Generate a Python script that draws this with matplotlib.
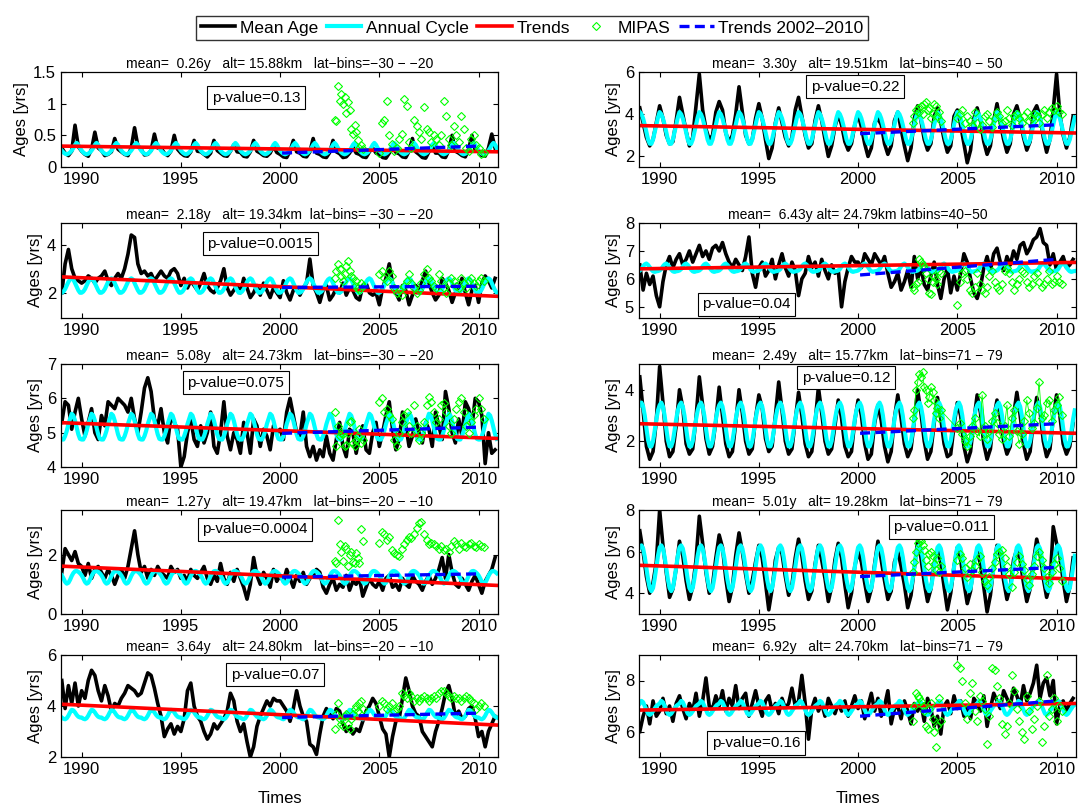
import numpy as np
import matplotlib
matplotlib.use("Agg")
import matplotlib.pyplot as plt
from matplotlib.lines import Line2D

plt.rcParams['font.family'] = ['Liberation Sans', 'DejaVu Sans']

# time axes: monthly (annual cycle), two-monthly (mean age), MIPAS dates
t_month = 1989 + np.arange(264) / 12.0
t_bimon = 1989 + np.arange(132) / 6.0
trend_t = [1989.0, 2011.0]
tr02_t = [2000.1, 2010.0]
mipas_t = [2002.75, 2002.83, 2002.92, 2003.0, 2003.08, 2003.17, 2003.25, 2003.33, 2003.42,
           2003.5, 2003.58, 2003.67, 2003.75, 2003.83, 2003.92, 2004.0, 2004.08, 2004.17,
           2005.0, 2005.12, 2005.25, 2005.38, 2005.5, 2005.62, 2005.75, 2005.88,
           2006.0, 2006.12, 2006.25, 2006.38, 2006.5, 2006.62, 2006.75, 2006.88,
           2007.0, 2007.12, 2007.25, 2007.38, 2007.5, 2007.62, 2007.75, 2007.88,
           2008.0, 2008.12, 2008.25, 2008.38, 2008.5, 2008.62, 2008.75, 2008.88,
           2009.0, 2009.12, 2009.25, 2009.38, 2009.5, 2009.62, 2009.75, 2009.88,
           2010.0, 2010.12, 2010.25]

# ---- left column: -30..-20 / -20..-10 ----
age_L1 = [.30, .22, .18, .25, .66, .32,  .25, .20, .17, .28, .55, .30,
          .26, .18, .20, .24, .45, .28,  .24, .20, .18, .30, .62, .33,
          .28, .19, .20, .26, .52, .30,  .30, .22, .18, .25, .50, .28,
          .22, .18, .17, .24, .42, .25,  .24, .20, .16, .22, .42, .26,
          .22, .18, .17, .25, .35, .24,  .23, .17, .16, .24, .42, .25,
          .22, .18, .17, .22, .33, .23,  .20, .16, .15, .25, .42, .24,
          .22, .17, .16, .24, .45, .22,  .20, .16, .15, .23, .42, .24,
          .21, .15, .16, .22, .32, .22,  .20, .16, .15, .24, .30, .22,
          .20, .15, .14, .22, .32, .23,  .21, .16, .15, .25, .45, .24,
          .20, .15, .14, .24, .35, .22,  .22, .16, .15, .26, .50, .25,
          .22, .18, .16, .28, .50, .26,  .24, .18, .17, .30, .52, .30]
cyc_L1 = [0.26, 0.23, 0.21, 0.20, 0.21, 0.23, 0.26, 0.30, 0.35, 0.38, 0.35, 0.30]
mip_L1 = [0.75, 0.72, 1.28, 1.05, 1.16, 1.0, 1.1, 0.85, 1.02, 0.9, 0.6, 0.52, 0.66, 0.55, 0.42, 0.3, 0.35, 0.28,
          0.22, 0.7, 0.75, 1.05, 0.5, 0.36, 0.25, 0.3,
          0.45, 0.52, 1.07, 0.97, 0.4, 0.3, 0.75, 0.65,
          0.55, 0.45, 0.95, 0.6, 0.55, 0.4, 0.5, 0.45,
          0.35, 0.5, 1.05, 0.8, 0.45, 0.35, 0.65, 0.5,
          0.4, 0.8, 0.6, 0.3, 0.25, 0.45, 0.5, 0.35,
          0.3, 0.2, 0.22]
trend_L1 = [0.33, 0.24]
tr02_L1 = [0.22, 0.33]

age_L2 = [2.0, 3.2, 3.8, 3.0, 2.6, 2.5,  2.4, 2.5, 2.7, 2.6, 2.4, 2.6,
          2.7, 2.9, 2.5, 2.3, 2.6, 2.8,  2.6, 3.0, 3.6, 4.4, 4.3, 3.2,
          2.8, 2.9, 2.7, 2.8, 2.5, 2.7,  2.9, 2.7, 2.6, 2.9, 3.0, 2.8,
          2.3, 2.6, 2.2, 2.5, 2.3, 2.1,  2.4, 2.8, 2.3, 2.1, 2.0, 2.2,
          2.5, 3.0, 2.2, 1.9, 2.1, 2.3,  2.0, 2.6, 2.2, 1.8, 2.0, 2.3,
          1.9, 2.4, 2.1, 1.8, 2.2, 2.0,  1.8, 2.5, 2.0, 1.7, 2.1, 2.2,
          1.9, 2.2, 2.4, 3.4, 2.3, 2.0,  1.6, 2.1, 2.3, 1.7, 1.9, 2.2,
          2.0, 2.4, 1.9, 2.2, 2.1, 1.8,  1.7, 2.3, 2.4, 2.0, 1.9, 2.0,
          1.5, 2.2, 2.6, 3.2, 2.4, 2.0,  1.7, 2.3, 2.1, 1.5, 1.9, 2.3,
          2.1, 2.5, 2.9, 2.4, 2.0, 1.7,  1.9, 2.6, 2.4, 2.1, 1.6, 2.0,
          2.2, 2.6, 2.0, 1.5, 2.1, 2.3,  1.6, 2.4, 2.7, 2.5, 2.2, 2.6]
cyc_L2 = [2.0, 2.05, 2.15, 2.3, 2.45, 2.55, 2.6, 2.55, 2.4, 2.25, 2.1, 2.0]
mip_L2 = [2.6, 2.9, 3.2, 3.0, 2.7, 2.5, 2.8, 3.1, 3.3, 2.9, 2.7, 2.6, 2.3, 2.5, 2.2, 2.1, 2.4, 2.3,
          2.8, 2.9, 2.6, 2.5, 2.9, 2.7, 2.2, 2.0,
          2.1, 1.9, 2.3, 2.5, 2.8, 2.4, 2.2, 2.0,
          2.1, 2.4, 2.8, 3.0, 2.6, 2.5, 2.3, 2.2,
          2.8, 2.5, 2.2, 2.0, 2.4, 2.6, 2.5, 2.3,
          2.2, 2.6, 2.4, 2.2, 2.5, 2.6, 2.4, 2.3,
          2.5, 2.6, 2.5]
trend_L2 = [2.66, 1.85]
tr02_L2 = [2.22, 2.27]

age_L3 = [5.3, 5.9, 5.8, 5.1, 5.6, 6.0,  5.4, 4.9, 5.3, 5.7, 5.0, 4.8,
          5.5, 5.2, 5.9, 5.8, 5.7, 6.0,  5.9, 5.8, 5.6, 6.0, 5.4, 5.0,
          5.6, 6.3, 6.6, 6.2, 5.4, 5.2,  5.7, 5.0, 4.7, 5.5, 5.3, 5.1,
          4.0, 4.3, 5.0, 5.4, 4.8, 4.6,  5.2, 4.7, 5.0, 5.6, 4.6, 4.4,
          5.0, 5.9, 4.9, 4.5, 5.0, 4.8,  4.4, 5.3, 5.0, 4.4, 5.4, 5.2,
          4.6, 5.1, 4.9, 4.5, 5.2, 5.0,  5.1, 4.8, 5.6, 6.0, 5.5, 5.0,
          4.9, 5.6, 4.6, 4.3, 4.6, 4.2,  4.5, 4.3, 4.9, 4.4, 4.2, 4.8,
          5.3, 4.6, 4.3, 5.1, 5.0, 4.4,  4.9, 5.2, 4.5, 4.4, 5.0, 5.3,
          4.6, 5.0, 5.5, 5.9, 5.1, 4.5,  4.8, 5.6, 5.2, 4.6, 4.9, 5.4,
          5.0, 4.7, 5.3, 5.1, 4.6, 5.6,  5.2, 4.8, 6.2, 5.7, 5.0, 4.7,
          5.4, 4.9, 5.9, 5.7, 5.2, 6.0,  5.9, 5.5, 4.1, 5.0, 4.4, 4.5]
cyc_L3 = [4.8, 4.8, 4.9, 5.05, 5.25, 5.4, 5.55, 5.5, 5.35, 5.15, 4.95, 4.82]
mip_L3 = [5.6, 4.6, 5.2, 4.9, 5.0, 4.95, 4.6, 4.65, 5.0, 5.3, 5.35, 4.7, 4.6, 4.8, 4.9, 5.1, 4.7, 4.8,
          5.9, 6.0, 5.6, 5.7, 5.5, 5.4, 4.8, 4.6,
          5.0, 5.3, 5.5, 5.6, 5.2, 5.0, 5.8, 5.2,
          4.8, 5.0, 5.3, 5.8, 6.05, 5.9, 5.6, 5.3,
          5.4, 5.8, 5.85, 5.6, 5.2, 5.0, 5.4, 5.7,
          5.9, 6.0, 5.6, 5.2, 5.0, 5.3, 5.5, 5.7,
          6.0, 5.7, 5.4]
trend_L3 = [5.29, 4.83]
tr02_L3 = [4.98, 5.16]

age_L4 = [1.4, 2.2, 2.0, 1.8, 2.1, 1.7,  1.6, 1.3, 1.7, 1.2, 1.5, 1.6,
          1.4, 1.2, 1.5, 1.3, 1.0, 1.3,  1.5, 1.2, 1.6, 2.2, 2.8, 2.0,
          1.4, 1.6, 1.2, 1.5, 1.3, 1.6,  1.4, 1.3, 1.2, 1.6, 1.4, 1.5,
          1.2, 1.3, 1.1, 1.5, 1.3, 1.2,  1.4, 1.6, 1.2, 1.0, 1.3, 1.1,
          1.7, 1.2, 1.0, 1.4, 1.1, 1.5,  1.2, 0.9, 0.5, 1.0, 1.9, 1.3,
          1.0, 1.4, 1.2, 0.9, 1.5, 1.1,  1.3, 1.1, 1.5, 1.2, 0.9, 1.3,
          1.1, 1.4, 1.0, 1.2, 1.3, 1.5,  1.4, 0.9, 0.7, 1.0, 1.2, 0.8,
          1.0, 0.9, 1.3, 0.8, 1.1, 1.0,  1.2, 0.6, 0.9, 1.2, 1.0, 0.9,
          1.1, 0.8, 1.2, 1.3, 0.9, 1.0,  0.8, 1.2, 1.0, 0.9, 1.3, 1.1,
          1.0, 0.8, 1.1, 1.3, 1.0, 1.2,  1.5, 1.9, 1.2, 2.0, 1.4, 1.0,
          0.9, 1.2, 1.0, 0.8, 1.1, 1.3,  1.0, 0.7, 1.1, 1.3, 1.5, 1.9]
cyc_L4 = [1.3, 1.2, 1.08, 1.02, 1.05, 1.15, 1.28, 1.38, 1.44, 1.45, 1.42, 1.37]
mip_L4 = [1.8, 1.7, 3.15, 2.35, 2.1, 1.8, 2.3, 2.2, 1.6, 2.0, 2.1, 1.75, 1.7, 2.05, 1.9, 1.7, 2.85, 2.45,
          2.4, 2.75, 2.7, 2.5, 2.6, 2.15, 2.05, 2.0,
          1.95, 2.2, 2.35, 2.5, 2.6, 2.55, 2.7, 2.9,
          3.05, 3.1, 2.7, 2.5, 2.35, 2.4, 2.35, 2.3,
          2.2, 2.3, 2.15, 2.2, 2.1, 2.3, 2.45, 2.35,
          2.2, 2.4, 2.3, 2.25, 2.35, 2.4, 2.3, 2.25,
          2.35, 2.3, 2.25]
trend_L4 = [1.61, 0.96]
tr02_L4 = [1.24, 1.35]

age_L5 = [5.0, 3.9, 4.8, 4.1, 4.9, 4.0,  4.6, 4.3, 5.0, 5.4, 5.2, 4.6,
          4.2, 4.8, 4.4, 3.8, 4.1, 4.0,  4.3, 4.5, 4.8, 4.7, 4.6, 4.4,
          4.5, 4.9, 5.3, 5.2, 4.7, 4.1,  3.6, 2.8, 3.1, 3.3, 2.9, 3.2,
          3.0, 3.5, 4.6, 4.9, 4.0, 3.6,  3.4, 3.0, 2.7, 2.9, 3.3, 3.1,
          3.3, 3.5, 3.8, 4.5, 4.2, 3.4,  3.0, 3.3, 2.6, 2.0, 2.4, 3.2,
          3.6, 3.9, 4.2, 4.0, 4.3, 4.2,  4.2, 4.0, 3.8, 3.4, 3.9, 4.6,
          4.0, 3.6, 3.4, 2.5, 2.4, 2.1,  2.9, 3.6, 3.9, 3.7, 3.5, 3.9,
          3.8, 3.3, 3.0, 3.2, 2.9, 3.1,  3.0, 3.4, 3.8, 4.0, 4.3, 4.1,
          3.6, 3.1, 2.9, 2.0, 2.8, 3.4,  3.5, 4.3, 5.1, 4.6, 4.0, 3.7,
          3.6, 3.0, 2.8, 2.6, 2.4, 3.0,  3.4, 3.9, 4.5, 4.8, 4.3, 3.6,
          3.8, 3.5, 3.6, 3.9, 4.0, 3.5,  2.8, 3.0, 2.4, 3.0, 3.3, 3.6]
cyc_L5 = [3.55, 3.5, 3.48, 3.52, 3.62, 3.75, 3.85, 3.83, 3.75, 3.65, 3.58, 3.55]
mip_L5 = [3.1, 3.7, 4.1, 3.5, 3.3, 3.2, 3.6, 3.7, 3.3, 3.1, 3.5, 3.7, 3.9, 4.0, 3.8, 4.1, 4.2, 3.9,
          4.0, 4.2, 4.1, 3.9, 4.0, 4.1, 3.8, 3.9,
          4.0, 4.5, 4.4, 4.3, 4.5, 4.4, 4.2, 4.3,
          4.2, 4.3, 4.4, 4.3, 4.2, 4.3, 4.4, 4.3,
          4.5, 4.6, 4.6, 4.5, 4.4, 4.3, 4.4, 4.3,
          4.3, 4.2, 4.3, 4.4, 4.3, 4.2, 4.1, 3.9,
          4.0, 4.1, 4.0]
trend_L5 = [4.07, 3.25]
tr02_L5 = [3.55, 3.72]

# ---- right column: 40..50 / 71..79 ----
age_R1 = [4.3, 3.6, 2.9, 2.5, 2.8, 3.6,  4.4, 3.8, 3.0, 2.6, 2.7, 3.7,
          4.8, 4.0, 3.2, 2.5, 2.9, 4.4,  5.9, 4.2, 3.3, 2.8, 3.0, 4.1,
          4.6, 4.2, 3.1, 2.7, 3.0, 4.0,  5.3, 4.1, 3.0, 2.6, 2.8, 3.8,
          4.5, 3.8, 2.8, 1.9, 2.4, 3.6,  4.3, 3.6, 2.9, 2.5, 2.9, 4.2,
          4.8, 3.9, 3.0, 2.4, 2.6, 3.7,  4.4, 3.7, 2.8, 2.0, 2.5, 3.4,
          4.0, 3.5, 2.7, 2.3, 2.6, 3.5,  4.0, 3.4, 2.6, 2.0, 2.4, 3.6,
          3.8, 3.5, 2.6, 2.1, 2.5, 3.7,  4.1, 3.3, 2.5, 1.8, 2.4, 3.8,
          4.4, 3.7, 2.8, 2.3, 2.6, 3.9,  4.3, 3.6, 2.8, 2.2, 2.5, 3.9,
          4.2, 3.5, 2.6, 1.7, 2.3, 3.8,  4.3, 3.7, 2.7, 2.1, 2.5, 3.7,
          4.5, 3.6, 2.8, 2.2, 2.6, 4.0,  4.4, 3.8, 2.9, 2.3, 2.7, 4.1,
          4.4, 3.9, 2.9, 2.2, 2.8, 4.2,  5.9, 4.0, 3.0, 2.4, 2.9, 3.9]
cyc_R1 = [4.1, 4.0, 3.8, 3.5, 3.15, 2.8, 2.6, 2.6, 2.8, 3.15, 3.5, 3.85]
mip_R1 = [3.6, 3.9, 4.2, 4.3, 4.1, 4.4, 4.0, 4.5, 4.6, 4.2, 4.3, 3.8, 4.0, 4.5, 4.4, 3.9, 4.1, 3.7,
          3.8, 4.0, 4.2, 3.6, 3.9, 3.7, 3.5, 4.1,
          3.6, 3.3, 3.5, 3.9, 4.0, 3.7, 3.4, 3.8,
          4.1, 3.9, 3.6, 3.7, 4.2, 3.8, 3.5, 3.9,
          4.0, 3.8, 3.6, 3.9, 4.1, 3.7, 3.8, 4.0,
          3.9, 3.6, 4.0, 4.2, 3.8, 4.1, 4.3, 4.2,
          4.4, 4.1, 4.0]
trend_R1 = [3.46, 3.11]
tr02_R1 = [3.08, 3.5]

age_R2 = [6.5, 5.6, 6.2, 5.8, 6.1, 5.4,  5.0, 5.9, 6.5, 6.8, 6.4, 6.7,
          6.9, 6.5, 6.7, 7.0, 6.6, 6.9,  7.2, 6.8, 7.0, 6.7, 7.1, 7.2,
          7.0, 7.3, 6.9, 6.6, 6.4, 6.7,  6.5, 6.3, 6.8, 7.5, 6.2, 5.7,
          6.4, 6.6, 6.1, 6.3, 6.7, 6.0,  6.5, 6.9, 6.4, 6.1, 6.6, 6.3,
          5.4, 6.0, 6.2, 6.8, 6.4, 6.6,  6.1, 6.7, 6.3, 6.0, 6.5, 6.2,
          6.3, 5.0, 5.9, 6.4, 6.8, 6.6,  6.6, 6.4, 6.9, 6.7, 6.5, 6.9,
          6.7, 6.5, 6.8, 6.2, 5.7, 5.9,  6.2, 5.6, 5.9, 6.3, 5.7, 6.8,
          6.0, 6.4, 5.8, 5.6, 6.1, 6.6,  5.8, 5.3, 6.0, 6.4, 5.5, 6.1,
          5.6, 6.2, 6.9, 6.6, 6.0, 5.5,  5.3, 5.7, 6.4, 6.8, 6.3, 6.9,
          7.1, 6.6, 6.3, 6.8, 6.5, 7.0,  6.7, 7.2, 7.3, 6.9, 7.1, 7.4,
          7.5, 7.8, 7.3, 7.2, 6.5, 6.9,  6.3, 6.6, 6.8, 6.4, 6.5, 6.7]
cyc_R2 = [6.3, 6.35, 6.45, 6.52, 6.55, 6.5, 6.42, 6.33, 6.27, 6.25, 6.27, 6.28]
mip_R2 = [5.7, 5.6, 5.8, 5.9, 6.7, 6.6, 6.5, 6.4, 6.2, 6.0, 5.5, 5.45, 5.9, 6.1, 6.0, 5.8, 6.3, 6.2,
          5.05, 5.9, 6.2, 6.3, 6.0, 5.6, 5.5, 5.7,
          6.2, 5.8, 5.6, 5.5, 5.7, 6.1, 6.3, 5.9,
          5.7, 5.6, 5.8, 6.3, 6.4, 6.2, 5.9, 5.6,
          5.8, 6.0, 6.3, 6.2, 5.9, 5.7, 5.8, 6.1,
          6.2, 5.9, 5.7, 5.8, 6.0, 6.3, 5.8, 5.9,
          6.1, 5.9, 5.8]
trend_R2 = [6.36, 6.59]
tr02_R2 = [6.14, 6.7]

age_R3 = [4.5, 3.2, 1.8, 1.3, 1.6, 2.8,  4.9, 3.5, 2.0, 1.4, 1.6, 2.6,
          4.0, 3.3, 1.9, 1.5, 1.7, 2.9,  4.5, 3.4, 2.1, 1.5, 1.8, 2.8,
          4.1, 3.0, 1.9, 1.4, 1.6, 2.7,  4.0, 3.1, 2.0, 1.5, 1.7, 2.9,
          3.8, 3.3, 2.1, 1.6, 1.8, 3.0,  4.3, 3.2, 2.0, 1.5, 1.7, 2.8,
          3.9, 3.0, 1.9, 1.4, 1.6, 2.7,  4.1, 3.1, 2.0, 1.5, 1.7, 2.6,
          3.6, 2.9, 1.8, 1.4, 1.6, 2.8,  3.6, 3.0, 1.9, 1.3, 1.5, 2.7,
          3.4, 2.8, 1.8, 1.2, 1.6, 2.9,  3.8, 2.9, 1.9, 1.4, 1.7, 2.8,
          4.0, 3.1, 2.0, 1.3, 1.6, 2.7,  3.7, 2.9, 1.9, 1.4, 1.5, 2.6,
          3.5, 3.0, 1.8, 1.2, 1.6, 2.8,  3.8, 3.1, 1.9, 1.3, 1.7, 2.9,
          3.6, 2.9, 2.0, 1.5, 1.8, 3.0,  3.9, 3.0, 1.9, 1.3, 1.6, 2.8,
          3.7, 3.2, 2.0, 1.4, 1.7, 2.9,  3.8, 3.0, 1.9, 1.5, 1.8, 2.7]
cyc_R3 = [3.4, 3.5, 3.35, 3.0, 2.5, 2.05, 1.8, 1.8, 2.0, 2.4, 2.85, 3.2]
mip_R3 = [2.9, 3.2, 4.0, 4.3, 4.6, 4.5, 4.7, 4.1, 4.0, 3.5, 3.7, 4.1, 3.9, 3.6, 3.1, 3.3, 2.9, 3.2,
          2.5, 2.7, 2.3, 2.0, 1.8, 2.2, 2.6, 2.9,
          2.4, 2.2, 3.8, 2.6, 2.1, 2.4, 2.8, 3.1,
          2.7, 2.3, 2.1, 2.6, 3.4, 2.2, 2.9, 3.2,
          2.4, 1.9, 2.3, 2.8, 3.6, 3.1, 2.5, 2.7,
          3.3, 4.3, 2.9, 3.0, 3.5, 3.6, 2.8, 3.2,
          3.4, 3.7, 3.0]
trend_R3 = [2.68, 2.31]
tr02_R3 = [2.31, 2.68]

age_R4 = [7.0, 6.0, 4.8, 4.0, 4.5, 5.5,  8.0, 6.3, 5.0, 3.8, 4.2, 5.2,
          6.5, 5.8, 4.6, 3.7, 4.3, 5.6,  7.7, 6.4, 5.0, 4.0, 4.4, 5.7,
          6.8, 6.2, 4.7, 3.6, 4.3, 5.8,  6.9, 6.0, 4.9, 4.0, 4.6, 5.5,
          6.3, 5.7, 4.5, 3.2, 4.2, 5.6,  6.2, 5.9, 4.8, 3.9, 4.4, 5.7,
          6.6, 5.8, 4.6, 3.7, 4.1, 5.4,  6.3, 5.6, 4.7, 3.6, 4.3, 5.6,
          6.4, 5.7, 4.4, 3.3, 4.0, 5.3,  6.0, 5.5, 4.5, 3.6, 4.2, 5.4,
          6.5, 5.6, 4.6, 3.7, 4.1, 5.5,  6.0, 5.3, 4.4, 3.3, 3.9, 5.2,
          6.5, 5.7, 4.5, 3.6, 4.2, 5.4,  6.1, 5.5, 4.3, 3.2, 4.0, 5.3,
          6.2, 5.6, 4.5, 3.5, 4.1, 5.5,  6.0, 5.4, 4.3, 3.1, 3.9, 5.3,
          6.3, 5.8, 4.6, 3.7, 4.3, 5.6,  6.1, 5.6, 4.5, 3.6, 4.2, 5.5,
          6.6, 5.9, 4.7, 3.8, 4.4, 7.2,  6.4, 5.8, 4.6, 3.6, 4.3, 5.7]
cyc_R4 = [6.2, 6.3, 6.15, 5.75, 5.2, 4.65, 4.25, 4.1, 4.25, 4.7, 5.25, 5.8]
mip_R4 = [5.0, 5.5, 6.0, 6.4, 6.6, 6.5, 6.3, 6.1, 5.6, 5.3, 5.9, 6.0, 5.8, 5.4, 5.1, 5.7, 5.0, 5.3,
          5.6, 5.9, 5.7, 5.2, 4.8, 5.4, 5.1, 5.3,
          5.6, 5.8, 5.0, 4.6, 4.4, 4.8, 5.2, 5.5,
          5.9, 6.0, 6.1, 5.7, 5.3, 4.9, 4.3, 5.0,
          5.5, 5.8, 5.4, 5.1, 4.7, 4.4, 4.9, 5.3,
          5.8, 6.0, 5.6, 5.2, 4.8, 4.5, 5.0, 5.4,
          5.7, 5.2, 4.6]
trend_R4 = [5.34, 4.68]
tr02_R4 = [4.8, 5.24]

age_R5 = [6.0, 6.6, 7.0, 6.3, 7.2, 6.6,  6.8, 7.3, 6.7, 7.0, 6.4, 7.1,
          7.4, 6.9, 6.5, 7.1, 6.8, 7.5,  6.6, 7.2, 8.1, 7.0, 6.9, 7.4,
          7.0, 7.6, 6.8, 7.3, 7.0, 7.8,  6.9, 7.3, 7.5, 6.6, 7.1, 7.6,
          7.0, 6.6, 7.2, 7.4, 6.8, 7.1,  6.7, 7.3, 6.9, 7.1, 7.7, 7.0,
          7.2, 8.2, 7.1, 5.7, 6.9, 7.3,  6.8, 7.1, 6.6, 7.3, 7.0, 6.7,
          7.1, 6.8, 7.2, 6.6, 7.0, 7.4,  6.9, 7.2, 6.5, 7.0, 7.5, 6.8,
          7.3, 6.6, 7.0, 7.6, 6.3, 6.9,  7.0, 6.5, 7.2, 6.8, 6.3, 7.1,
          6.8, 7.1, 6.4, 7.3, 6.9, 6.2,  6.6, 5.9, 7.0, 7.2, 6.7, 7.4,
          6.9, 7.2, 6.6, 7.0, 6.5, 7.3,  7.1, 6.8, 7.4, 6.2, 6.9, 7.5,
          7.2, 6.9, 7.6, 7.3, 7.0, 7.7,  7.4, 7.0, 7.8, 7.2, 7.5, 7.9,
          8.6, 7.3, 7.9, 8.1, 7.4, 8.0,  6.3, 7.0, 7.2, 6.8, 7.1, 7.3]
cyc_R5 = [7.1, 7.2, 7.15, 7.0, 6.85, 6.7, 6.65, 6.7, 6.8, 6.9, 7.0, 7.05]
mip_R5 = [6.4, 7.0, 7.5, 7.4, 7.3, 7.2, 7.0, 6.8, 6.2, 6.1, 6.9, 7.1, 6.5, 6.0, 5.4, 6.2, 7.3, 6.4,
          8.6, 8.5, 8.0, 7.1, 6.5, 7.5, 7.9, 6.8,
          6.4, 7.4, 7.2, 6.9, 5.5, 6.6, 8.5, 8.4,
          7.8, 7.3, 6.3, 5.9, 6.2, 7.1, 8.2, 7.6,
          6.9, 6.4, 6.0, 5.7, 7.4, 6.8, 6.1, 6.5,
          7.0, 7.2, 5.6, 6.2, 8.2, 6.6, 6.9, 7.3,
          6.4, 7.0, 6.8]
trend_R5 = [6.84, 7.1]
tr02_R5 = [6.6, 7.2]

titles = {
    'L1': 'mean=  0.26y   alt= 15.88km   lat\u2212bins=\u221230 \u2212 \u221220',
    'L2': 'mean=  2.18y   alt= 19.34km  lat\u2212bins= \u221230 \u2212 \u221220',
    'L3': 'mean=  5.08y   alt= 24.73km   lat\u2212bins=\u221230 \u2212 \u221220',
    'L4': 'mean=  1.27y   alt= 19.47km   lat\u2212bins=\u221220 \u2212 \u221210',
    'L5': 'mean=  3.64y   alt= 24.80km   lat\u2212bins=\u221220 \u2212 \u221210',
    'R1': 'mean=  3.30y   alt= 19.51km   lat\u2212bins=40 \u2212 50',
    'R2': 'mean=  6.43y alt= 24.79km latbins=40\u221250',
    'R3': 'mean=  2.49y   alt= 15.77km   lat\u2212bins=71 \u2212 79',
    'R4': 'mean=  5.01y   alt= 19.28km   lat\u2212bins=71 \u2212 79',
    'R5': 'mean=  6.92y   alt= 24.70km   lat\u2212bins=71 \u2212 79',
}
pvals = {'L1': '0.13', 'L2': '0.0015', 'L3': '0.075', 'L4': '0.0004', 'L5': '0.07',
         'R1': '0.22', 'R2': '0.04', 'R3': '0.12', 'R4': '0.011', 'R5': '0.16'}

# panel table: key, column, row, data, y-limits, y-ticks, p-value box position (axes fraction)
panels = [
    ('L1', 0, 0, age_L1, cyc_L1, mip_L1, trend_L1, tr02_L1, (0, 1.5), [0, 0.5, 1, 1.5], (0.446, 0.73)),
    ('L2', 0, 1, age_L2, cyc_L2, mip_L2, trend_L2, tr02_L2, (0.95, 4.9), [2, 4], (0.456, 0.78)),
    ('L3', 0, 2, age_L3, cyc_L3, mip_L3, trend_L3, tr02_L3, (4, 7), [4, 5, 6, 7], (0.40, 0.817)),
    ('L4', 0, 3, age_L4, cyc_L4, mip_L4, trend_L4, tr02_L4, (0, 3.5), [0, 2], (0.444, 0.816)),
    ('L5', 0, 4, age_L5, cyc_L5, mip_L5, trend_L5, tr02_L5, (2, 6), [2, 4, 6], (0.49, 0.806)),
    ('R1', 1, 0, age_R1, cyc_R1, mip_R1, trend_R1, tr02_R1, (1.5, 6), [2, 4, 6], (0.495, 0.844)),
    ('R2', 1, 1, age_R2, cyc_R2, mip_R2, trend_R2, tr02_R2, (4.6, 8), [5, 6, 7, 8], (0.246, 0.144)),
    ('R3', 1, 2, age_R3, cyc_R3, mip_R3, trend_R3, tr02_R3, (1, 5), [2, 4], (0.474, 0.865)),
    ('R4', 1, 3, age_R4, cyc_R4, mip_R4, trend_R4, tr02_R4, (3, 8), [4, 6, 8], (0.692, 0.836)),
    ('R5', 1, 4, age_R5, cyc_R5, mip_R5, trend_R5, tr02_R5, (5, 9), [6, 8], (0.268, 0.137)),
]

W, H = 1078, 806
col_left = [61, 639]
col_width = 437
row_top = [72, 223, 364, 510, 655]
row_bot = [167, 318, 467, 614, 757]

fig = plt.figure(figsize=(W / 100, H / 100), dpi=100)
green = '#00ff00'
cyan = '#00ffff'

for key, col, row, age, cyc, mip, trend, tr02, ylim, yticks, pxy in panels:
    x0 = col_left[col] / W
    y0 = 1 - row_bot[row] / H
    h = (row_bot[row] - row_top[row]) / H
    ax = fig.add_axes([x0, y0, col_width / W, h])

    ax.plot(t_bimon, age, color='k', lw=2.6)
    ax.plot(t_month, np.tile(cyc, 22), color=cyan, lw=3.0)
    ax.plot(trend_t, trend, color='r', lw=2.6)
    ax.plot(mipas_t, mip, ls='-' if key == 'R3' else 'none', lw=0.6, color=green,
            marker='D', ms=3.6, mfc='none', mec=green, mew=0.8)
    ax.plot(tr02_t, tr02, color='b', lw=2.4, ls=(0, (3, 1.6)))

    ax.set_xlim(1988.96, 2010.98)
    ax.set_ylim(*ylim)
    ax.set_xticks([1990, 1995, 2000, 2005, 2010])
    ax.set_yticks(yticks)
    ax.set_yticklabels(['%g' % v for v in yticks])
    ax.tick_params(direction='in', top=True, right=True, length=3.5, width=0.8, labelsize=12)
    for s in ax.spines.values():
        s.set_linewidth(0.9)

    ax.set_title(titles[key], fontsize=10, pad=3)
    ax.set_ylabel('Ages [yrs]', fontsize=12, labelpad=3)
    if row == 4:
        ax.set_xlabel('Times', fontsize=12, labelpad=10)

    ax.text(pxy[0], pxy[1], 'p-value=' + pvals[key], transform=ax.transAxes,
            ha='center', va='center', fontsize=11,
            bbox=dict(boxstyle='square,pad=0.3', fc='white', ec='black', lw=0.8))

handles = [
    Line2D([], [], color='k', lw=2.6),
    Line2D([], [], color=cyan, lw=3.0),
    Line2D([], [], color='r', lw=2.6),
    Line2D([], [], ls='none', marker='D', ms=3.6, mfc='none', mec=green, mew=0.8),
    Line2D([], [], color='b', lw=2.4, ls=(0, (3, 1.6))),
]
labels = ['Mean Age', 'Annual Cycle', 'Trends', 'MIPAS', 'Trends 2002\u20132010']
leg = fig.legend(handles, labels, loc='center', bbox_to_anchor=(532 / W, 1 - 28 / H),
                 ncol=5, frameon=True, fancybox=False, edgecolor='k', fontsize=12.5,
                 handlelength=2.0, handletextpad=0.25, columnspacing=0.5,
                 borderpad=0.25, numpoints=1)
leg.get_frame().set_linewidth(1.0)

fig.savefig('out.png', dpi=100, facecolor='white')
